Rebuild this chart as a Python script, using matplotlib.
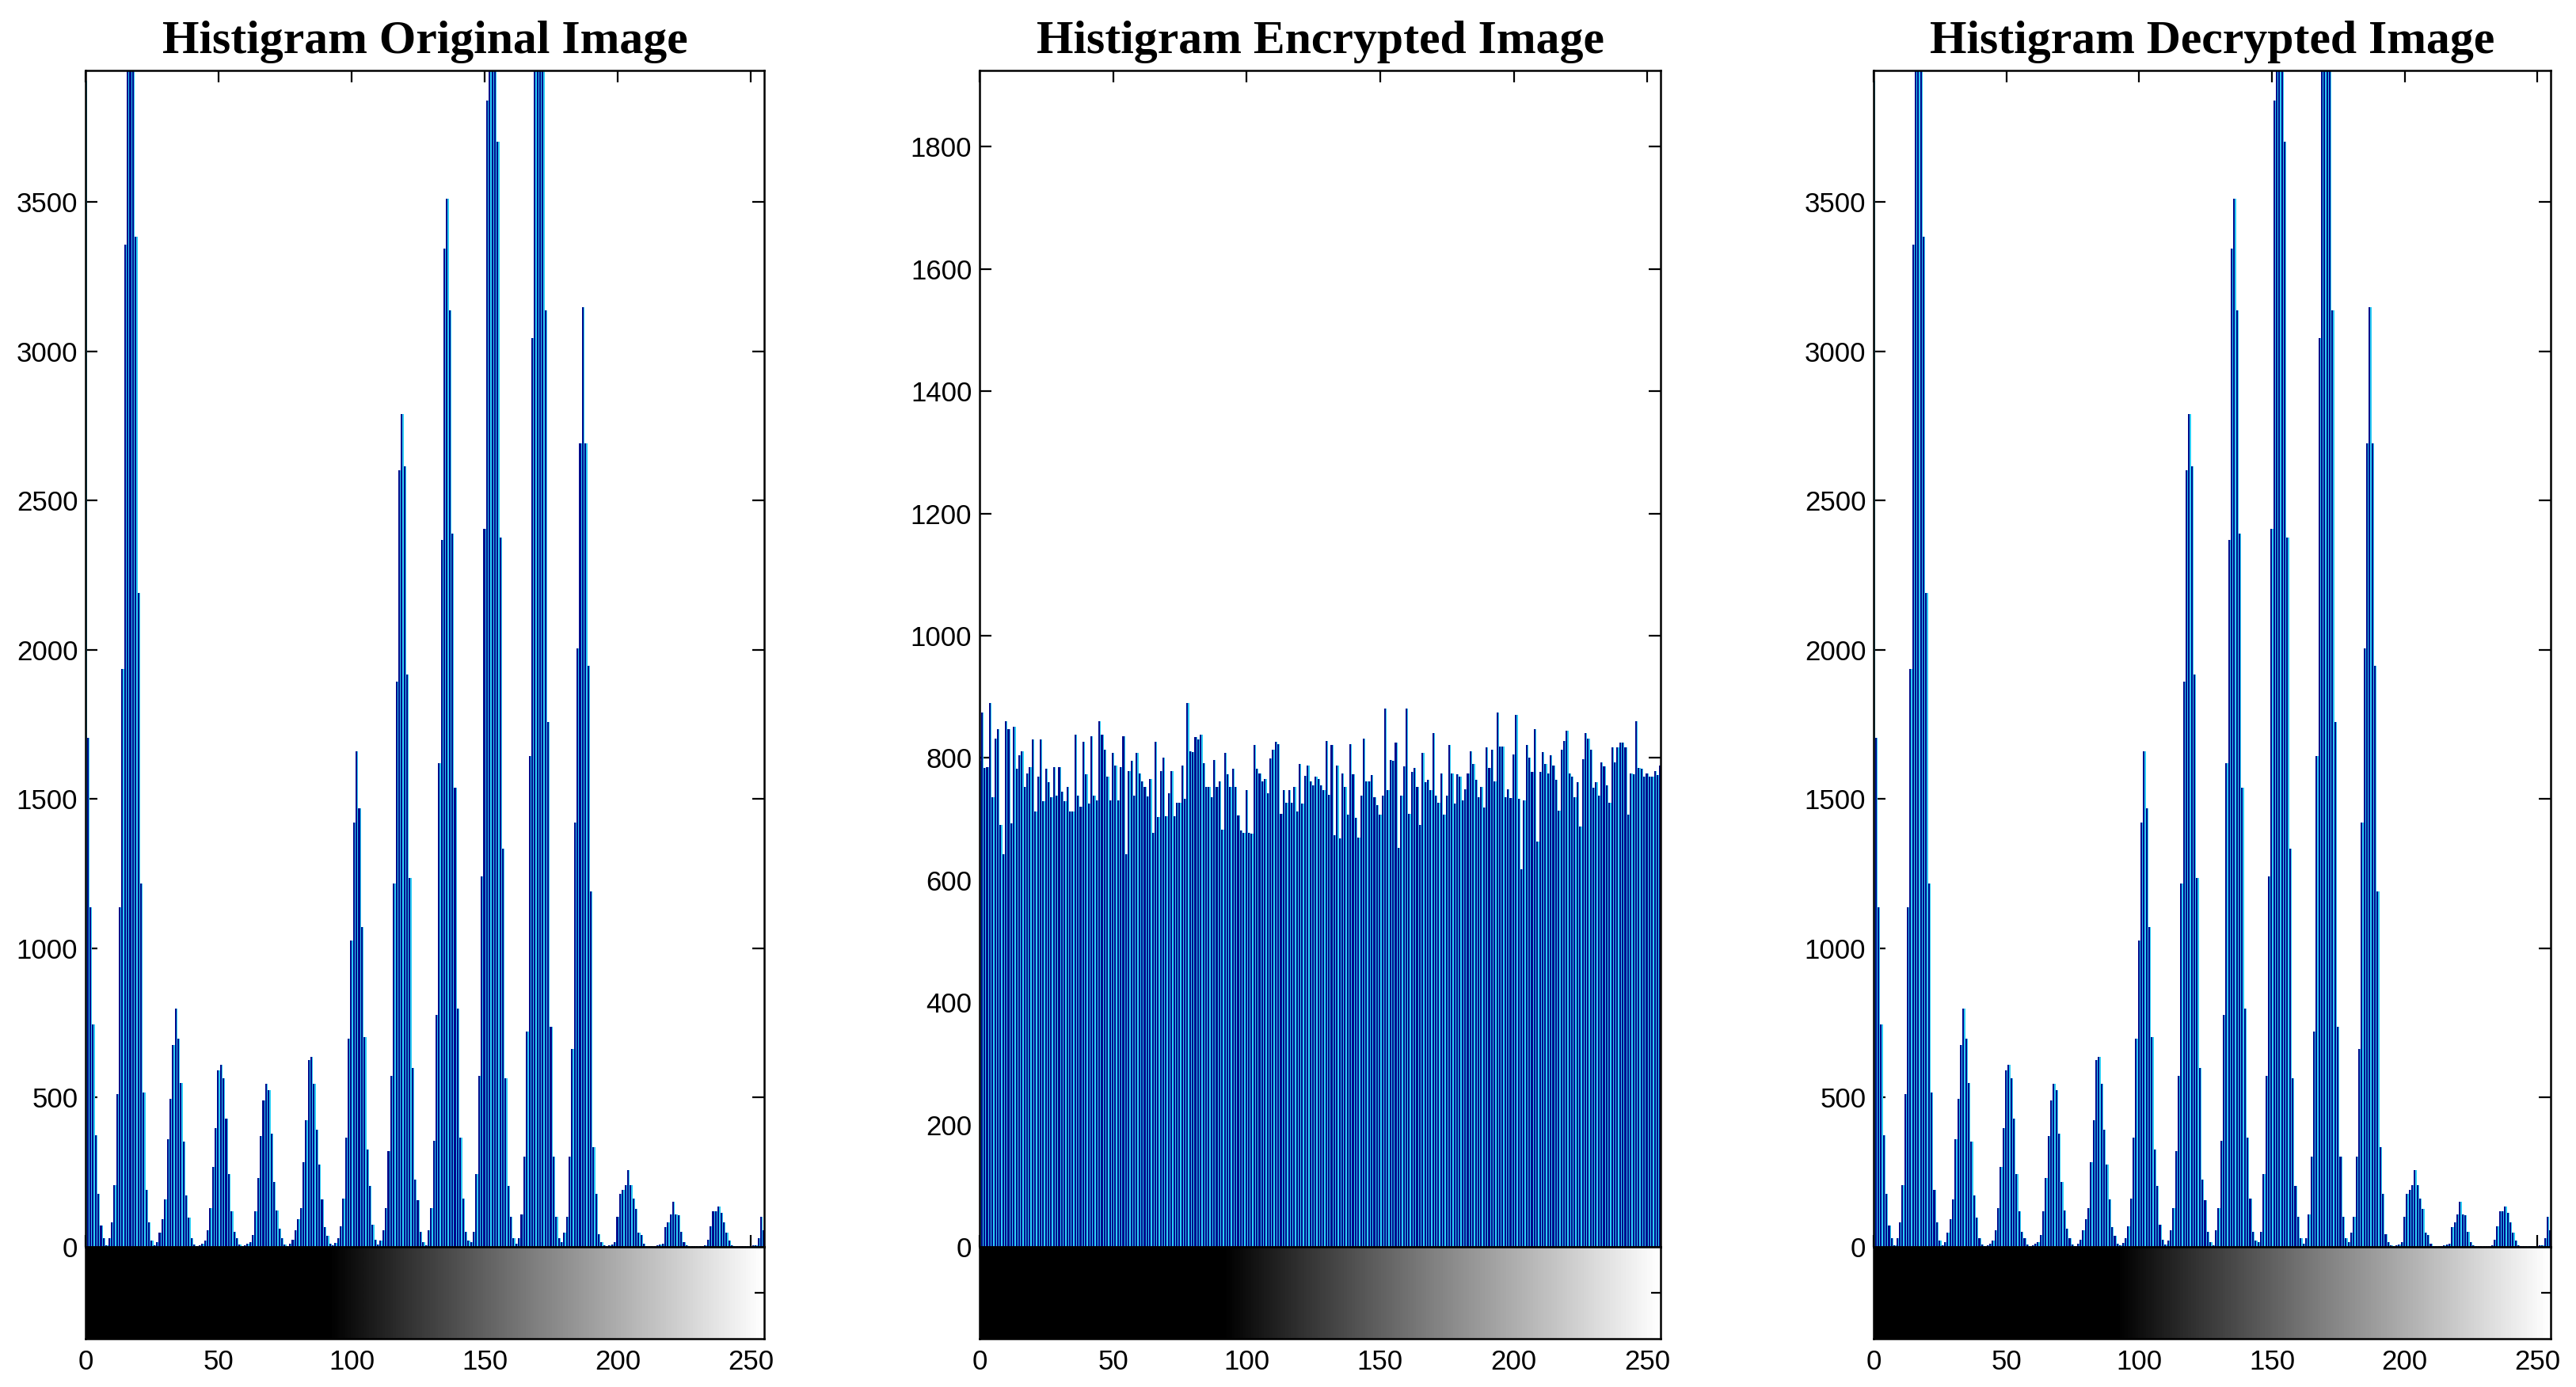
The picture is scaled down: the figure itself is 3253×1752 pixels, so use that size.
import numpy as np
import matplotlib
matplotlib.use("Agg")
import matplotlib.pyplot as plt
from matplotlib.colors import LinearSegmentedColormap

# ---------------- data ----------------
gray_levels = np.arange(256)

original_counts = [
    3905, 1705, 1137, 744, 374, 177, 71, 29, 5, 29,
    83, 208, 511, 1137, 1936, 3356, 4600, 5200, 4700, 3384,
    2190, 1218, 518, 190, 83, 20, 5, 15, 47, 92,
    159, 361, 497, 675, 798, 698, 549, 352, 172, 98,
    29, 8, 3, 5, 10, 20, 56, 129, 269, 397,
    590, 610, 565, 430, 244, 118, 50, 29, 8, 3,
    5, 10, 15, 40, 118, 231, 372, 491, 545, 525,
    379, 217, 123, 60, 29, 8, 3, 10, 25, 56,
    92, 129, 283, 424, 626, 636, 545, 392, 277, 159,
    65, 38, 10, 5, 12, 30, 70, 163, 365, 698,
    1025, 1420, 1660, 1470, 1070, 702, 325, 204, 74, 25,
    8, 20, 56, 129, 320, 572, 1218, 1894, 2600, 2790,
    2613, 1916, 1236, 599, 226, 156, 51, 15, 5, 56,
    129, 356, 778, 1621, 2369, 3343, 3510, 3136, 2388, 1537,
    798, 365, 163, 51, 20, 15, 51, 244, 572, 1241,
    2406, 3840, 4500, 5100, 4400, 3702, 2375, 1334, 565, 204,
    100, 30, 10, 29, 110, 302, 720, 1643, 3045, 4300,
    5000, 4800, 4100, 3136, 1757, 738, 302, 100, 29, 15,
    47, 100, 302, 662, 1420, 2004, 2692, 3147, 2690, 1947,
    1191, 334, 177, 42, 15, 5, 3, 5, 8, 15,
    100, 177, 190, 208, 256, 208, 163, 127, 47, 40,
    10, 3, 2, 2, 3, 5, 8, 10, 65, 83,
    110, 150, 110, 105, 51, 15, 5, 2, 2, 2,
    2, 3, 3, 5, 25, 69, 118, 120, 136, 114,
    83, 47, 20, 5, 2, 2, 2, 2, 2, 3,
    3, 5, 5, 29, 100, 55,
]

encrypted_counts = [
    795, 874, 784, 785, 890, 736, 832, 847, 690, 642,
    860, 847, 693, 851, 782, 804, 811, 753, 775, 785,
    831, 712, 769, 831, 729, 782, 760, 736, 785, 739,
    785, 745, 729, 752, 712, 712, 838, 739, 720, 827,
    773, 726, 835, 739, 731, 860, 838, 814, 769, 731,
    808, 788, 731, 785, 835, 642, 779, 795, 739, 808,
    775, 762, 752, 737, 765, 677, 827, 703, 778, 801,
    705, 742, 779, 705, 727, 727, 787, 733, 890, 811,
    810, 834, 831, 838, 791, 752, 752, 736, 797, 752,
    762, 683, 808, 773, 753, 782, 753, 706, 682, 677,
    747, 677, 676, 821, 782, 775, 762, 765, 742, 799,
    814, 826, 823, 709, 747, 727, 747, 727, 752, 712,
    790, 726, 771, 788, 762, 755, 770, 765,
    755, 747, 828, 740, 821, 674, 788, 669, 775, 752,
    707, 822, 773, 702, 670, 739, 832, 762, 762, 772,
    736, 723, 707, 739, 881, 747, 797, 795, 825, 653,
    739, 786, 881, 709, 777, 784, 752, 690, 808, 760,
    764, 747, 841, 738, 727, 775, 707, 739, 821, 775,
    725, 773, 769, 731, 749, 775, 811, 790, 764, 736,
    752, 719, 817, 784, 814, 762, 874, 819, 819, 736,
    749, 734, 806, 870, 733, 618, 731, 821, 801, 777,
    847, 663, 777, 810, 790, 775, 804, 788, 764, 714,
    814, 828, 844, 775, 769, 736, 761, 688, 798, 841,
    832, 814, 751, 760, 738, 793, 786, 755, 727, 817,
    793, 817, 825, 825, 817, 707, 775, 773, 860, 784,
    782, 769, 775, 770, 769, 778, 772, 788,
]

decrypted_counts = list(original_counts)

panel_titles = ["Histigram Original Image", "Histigram Encrypted Image",
                "Histigram Decrypted Image"]
panel_counts = [original_counts, encrypted_counts, decrypted_counts]
panel_ymax = [3940, 1925, 3940]
panel_yticks = [
    [0, 500, 1000, 1500, 2000, 2500, 3000, 3500],
    [0, 200, 400, 600, 800, 1000, 1200, 1400, 1600, 1800],
    [0, 500, 1000, 1500, 2000, 2500, 3000, 3500],
]
x_ticks = [0, 50, 100, 150, 200, 250]

# ---------------- style ----------------
W, H = 3253, 1752
DPI = 100
CYAN = "#2ccdf4"
NAVY = "#000a8c"
TICK_FONT = ["Liberation Sans Narrow", "Liberation Sans", "DejaVu Sans"]
TITLE_FONT = ["Liberation Serif", "DejaVu Serif"]

fig = plt.figure(figsize=(W / DPI, H / DPI), dpi=DPI)
fig.patch.set_facecolor("white")

gray_cmap = LinearSegmentedColormap.from_list(
    "imhist_gray",
    [(0.0, "black"), (0.36, "black"), (0.47, "#303030"), (0.66, "#7e7e7e"),
     (1.0, "white")])

# pixel layout of the three panels: (left, right)
panels_px = [(108, 965), (1237, 2097), (2366, 3221)]
top_px, zero_px, cbar_bottom_px = 89, 1575, 1691

for (x0, x1), title, counts, ymax, yticks in zip(
        panels_px, panel_titles, panel_counts, panel_ymax, panel_yticks):
    left = x0 / W
    width = (x1 - x0) / W
    hist_bottom = 1 - zero_px / H
    hist_height = (zero_px - top_px) / H
    cbar_b = 1 - cbar_bottom_px / H
    cbar_h = (cbar_bottom_px - zero_px) / H

    ax = fig.add_axes([left, hist_bottom, width, hist_height])
    ax.bar(gray_levels, counts, width=1.0, color=CYAN, linewidth=0, zorder=2)
    ax.bar(gray_levels - 0.19, counts, width=0.62, color=NAVY, linewidth=0, zorder=3)
    ax.set_xlim(0, 255)
    ax.set_ylim(0, ymax)
    ax.set_xticks(x_ticks)
    ax.set_yticks(yticks)
    ax.tick_params(axis="x", direction="in", top=True, bottom=True,
                   labelbottom=False, length=11, width=1.6)
    ax.tick_params(axis="y", direction="in", left=True, right=True,
                   length=11, width=1.6, pad=7, labelsize=25)
    for lab in ax.get_yticklabels():
        lab.set_family(TICK_FONT)
    for sp in ax.spines.values():
        sp.set_linewidth(1.8)
        sp.set_zorder(5)
    ax.set_title(title, fontsize=43, fontweight="bold", family=TITLE_FONT, pad=16)

    cax = fig.add_axes([left, cbar_b, width, cbar_h])
    cax.imshow(gray_levels[np.newaxis, :], cmap=gray_cmap, aspect="auto",
               extent=[-0.5, 255.5, 0, 1], interpolation="bilinear")
    cax.set_xlim(0, 255)
    cax.set_ylim(0, 1)
    cax.set_xticks(x_ticks)
    cax.set_yticks([0.5])
    cax.set_yticklabels([])
    cax.tick_params(axis="x", length=0, pad=9, labelsize=25)
    cax.tick_params(axis="y", direction="in", left=True, right=True,
                    length=9, width=1.6)
    for lab in cax.get_xticklabels():
        lab.set_family(TICK_FONT)
    for sp in cax.spines.values():
        sp.set_linewidth(1.8)

fig.savefig("out.png", dpi=DPI, facecolor="white")
